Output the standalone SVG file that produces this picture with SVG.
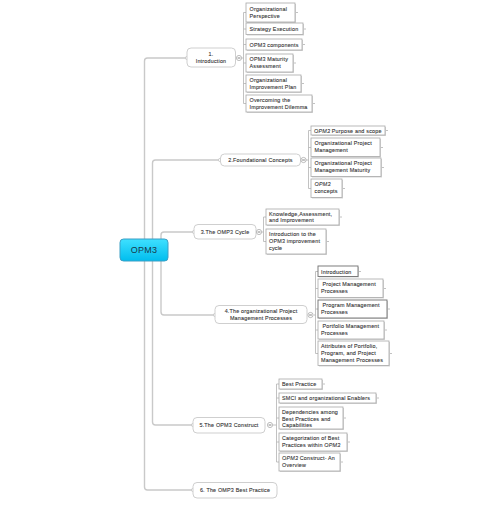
<svg xmlns="http://www.w3.org/2000/svg" width="503" height="508" viewBox="0 0 503 508">
<defs>
<linearGradient id="rg" x1="0" y1="0" x2="0" y2="1">
<stop offset="0" stop-color="#3fe0ff"/>
<stop offset="1" stop-color="#00bdee"/>
</linearGradient>
<style>
text{font-family:"Liberation Sans",Arial,sans-serif;font-size:5.4px;fill:#333;letter-spacing:.2px;stroke:#333;stroke-width:.1px}
.m{fill:none;stroke:#c9c9c9;stroke-width:1.4}
.k{fill:none;stroke:#b3b3b3;stroke-width:.8}
.mn{fill:#fff;stroke:#cfcfcf;stroke-width:1}
.cb{fill:#fff;stroke:#a8a8a8;stroke-width:.8}
.cd{fill:#fff;stroke:#6f6f6f;stroke-width:.9}
.sh{fill:#d6d6d6}
.cc{fill:#fff;stroke:#a0a0a0;stroke-width:.7}
.dot{fill:#fff;stroke:#c0c0c0;stroke-width:.7}
.c{text-anchor:middle}
.i{font-style:italic}
</style>
</defs>
<rect width="503" height="508" fill="#fff"/>
<g id="connectors">
<path class="m" d="M144.5 250 V61 Q144.5 58 147.5 58 H187"/>
<path class="m" d="M152.5 250 V163 Q152.5 160 155.5 160 H220"/>
<path class="m" d="M161 250 V235 Q161 232 164 232 H194"/>
<path class="m" d="M161 250 V312 Q161 315 164 315 H215"/>
<path class="m" d="M152.5 250 V422 Q152.5 425 155.5 425 H193"/>
<path class="m" d="M144.5 250 V487 Q144.5 490 147.5 490 H193"/>
<circle class="dot" cx="187" cy="58" r="1.6"/>
<circle class="dot" cx="220" cy="160" r="1.6"/>
<circle class="dot" cx="194" cy="232" r="1.6"/>
<circle class="dot" cx="215" cy="315" r="1.6"/>
<circle class="dot" cx="193" cy="425" r="1.6"/>
<circle class="dot" cx="193" cy="490" r="1.6"/>
<path class="k" d="M242 58 H243.5 M243.5 12.5 V103.5 M243.5 12.5 H246 M243.5 29 H246 M243.5 44.5 H246 M243.5 63 H246 M243.5 83.5 H246 M243.5 103.5 H246"/>
<path class="k" d="M306 160 H308.5 M308.5 130.5 V188.5 M308.5 130.5 H311 M308.5 147.5 H311 M308.5 167.5 H311 M308.5 188.5 H311"/>
<path class="k" d="M262 232 H263.5 M263.5 217 V241.5 M263.5 217 H266 M263.5 241.5 H266"/>
<path class="k" d="M314 315 H315.5 M315.5 271.5 V353.5 M315.5 271.5 H318 M315.5 288.5 H318 M315.5 309 H318 M315.5 330 H318 M315.5 353.5 H318"/>
<path class="k" d="M273 425 H276.5 M276.5 384 V462 M276.5 384 H279 M276.5 398 H279 M276.5 418 H279 M276.5 442 H279 M276.5 462 H279"/>
<path class="k" d="M295 12.5 H298 M303 29 H306 M302 44.5 H305 M293 63 H296 M301 83.5 H304 M312 103.5 H315 M385 130.5 H388 M380 147.5 H383 M381 167.5 H384 M342 188.5 H345 M339 217 H342 M326 241.5 H329 M358 271.5 H361 M383 288.5 H386 M387 309 H390 M384 330 H387 M389 353.5 H392 M322 384 H325 M376 398 H379 M343 418 H346 M347 442 H350 M340 462 H343"/>
</g>
<g id="root">
<rect x="120" y="239" width="48" height="22" rx="3.5" fill="url(#rg)" stroke="#3d9ec4" stroke-width="1"/>
<text x="144" y="253.3" class="c" style="font-size:9px;stroke:none;letter-spacing:.3px;fill:#17394a">OPM3</text>
</g>
<g id="n1">
<rect class="mn" x="187" y="48" width="48.5" height="19" rx="4"/>
<text x="211" y="55.5" class="c">1.</text>
<text x="211" y="62.5" class="c">Introduction</text>
<circle class="cc" cx="239" cy="58" r="2.6"/><path d="M237.6 58 H240.4" stroke="#666" stroke-width=".8"/>
</g>
<g id="n2">
<rect class="mn" x="220.5" y="154" width="80" height="12" rx="4"/>
<text x="260.5" y="162" class="c">2.Foundational Concepts</text>
<circle class="cc" cx="303.5" cy="160" r="2.6"/><path d="M302.1 160 H304.9" stroke="#666" stroke-width=".8"/>
</g>
<g id="n3">
<rect class="mn" x="194" y="224.5" width="62" height="14.5" rx="4"/>
<text x="225" y="234" class="c">3.The OMP3 Cycle</text>
<circle class="cc" cx="259" cy="232" r="2.6"/><path d="M257.6 232 H260.4" stroke="#666" stroke-width=".8"/>
</g>
<g id="n4">
<rect class="mn" x="215" y="305.5" width="92" height="18" rx="4"/>
<text x="261" y="313" class="c">4.The organizational  Project</text>
<text x="261" y="320" class="c">Management Processes</text>
<circle class="cc" cx="310.5" cy="315" r="2.6"/><path d="M309.1 315 H311.9" stroke="#666" stroke-width=".8"/>
</g>
<g id="n5">
<rect class="mn" x="193" y="417.5" width="72" height="15.5" rx="4"/>
<text x="229" y="427" class="c">5.The OPM3 Construct</text>
<circle class="cc" cx="270" cy="425" r="2.6"/><path d="M268.6 425 H271.4" stroke="#666" stroke-width=".8"/>
</g>
<g id="n6">
<rect class="mn" x="193" y="482.5" width="84" height="15.5" rx="4"/>
<text x="235" y="492" class="c">6. The OMP3 Best Practice</text>
</g>
<g id="c1a"><rect class="sh" x="247" y="4" width="49" height="19"/><rect class="cb" x="246" y="3" width="49" height="19"/><text x="249.5" y="10.5">Organizational</text><text x="249.5" y="17.5">Perspective</text></g>
<g id="c1b"><rect class="sh" x="247" y="24" width="57" height="11.5"/><rect class="cb" x="246" y="23" width="57" height="11.5"/><text x="249.5" y="31">Strategy Execution</text></g>
<g id="c1c"><rect class="sh" x="247" y="40" width="56" height="11"/><rect class="cb" x="246" y="39" width="56" height="11"/><text x="249.5" y="46.5">OPM3 components</text></g>
<g id="c1d"><rect class="sh" x="247" y="55" width="47" height="18"/><rect class="cb" x="246" y="54" width="47" height="18"/><text x="249.5" y="61">OPM3 Maturity</text><text x="249.5" y="68">Assessment</text></g>
<g id="c1e"><rect class="sh" x="247" y="76" width="55" height="17"/><rect class="cb" x="246" y="75" width="55" height="17"/><text x="249.5" y="82">Organizational</text><text x="249.5" y="89">Improvement Plan</text></g>
<g id="c1f"><rect class="sh" x="247" y="96" width="66" height="17"/><rect class="cb" x="246" y="95" width="66" height="17"/><text x="249.5" y="102">Overcoming the</text><text x="249.5" y="109">Improvement Dilemma</text></g>
<g id="c2a"><rect class="sh" x="312" y="127" width="74" height="9"/><rect class="cb" x="311" y="126" width="74" height="9"/><text x="314" y="132.5"><tspan class="i">OPM3</tspan> Purpose and scope</text></g>
<g id="c2b"><rect class="sh" x="312" y="139" width="69" height="18.5"/><rect class="cb" x="311" y="138" width="69" height="18.5"/><text x="314.5" y="145">Organizational  Project</text><text x="314.5" y="152">Management</text></g>
<g id="c2c"><rect class="sh" x="312" y="159" width="70" height="18.5"/><rect class="cb" x="311" y="158" width="70" height="18.5"/><text x="314.5" y="165">Organizational  Project</text><text x="314.5" y="172">Management  Maturity</text></g>
<g id="c2d"><rect class="sh" x="312" y="180" width="31" height="18.5"/><rect class="cb" x="311" y="179" width="31" height="18.5"/><text x="314.5" y="186" class="i">OPM3</text><text x="314.5" y="193">concepts</text></g>
<g id="c3a"><rect class="sh" x="267" y="210" width="73" height="16"/><rect class="cb" x="266" y="209" width="73" height="16"/><text x="269" y="215.5">Knowledge,Assessment,</text><text x="269" y="222">and Improvement</text></g>
<g id="c3b"><rect class="sh" x="267" y="230" width="60" height="25"/><rect class="cb" x="266" y="229" width="60" height="25"/><text x="269" y="236">Introduction  to the</text><text x="269" y="243">OPM3 improvement</text><text x="269" y="250">cycle</text></g>
<g id="c4a"><rect class="sh" x="319" y="267" width="40" height="10.5"/><rect class="cd" x="318" y="266" width="40" height="10.5"/><text x="321" y="273.5">Introduction</text></g>
<g id="c4b"><rect class="sh" x="319" y="280" width="65" height="18.5"/><rect class="cb" x="318" y="279" width="65" height="18.5"/><text x="322.5" y="286">Project Management</text><text x="321" y="293">Processes</text></g>
<g id="c4c"><rect class="sh" x="319" y="301" width="69" height="18"/><rect class="cd" x="318" y="300" width="69" height="18"/><text x="322.5" y="307">Program Management</text><text x="321" y="314">Processes</text></g>
<g id="c4d"><rect class="sh" x="319" y="322" width="66" height="18"/><rect class="cb" x="318" y="321" width="66" height="18"/><text x="322.5" y="328">Portfolio Management</text><text x="321" y="335">Processes</text></g>
<g id="c4e"><rect class="sh" x="319" y="342" width="71" height="24.5"/><rect class="cb" x="318" y="341" width="71" height="24.5"/><text x="321" y="348">Attributes of Portfolio,</text><text x="321" y="355">Program, and Project</text><text x="321" y="362">Management Processes</text></g>
<g id="c5a"><rect class="sh" x="280" y="380" width="43" height="10"/><rect class="cb" x="279" y="379" width="43" height="10"/><text x="282" y="386.2">Best Practice</text></g>
<g id="c5b"><rect class="sh" x="280" y="394" width="97" height="10"/><rect class="cb" x="279" y="393" width="97" height="10"/><text x="282" y="400.2">SMCI and organizational Enablers</text></g>
<g id="c5c"><rect class="sh" x="280" y="408" width="64" height="22"/><rect class="cb" x="279" y="407" width="64" height="22"/><text x="282" y="414">Dependencies among</text><text x="282" y="420.5">Best Practices and</text><text x="282" y="427">Capabilities</text></g>
<g id="c5d"><rect class="sh" x="280" y="434" width="68" height="18"/><rect class="cb" x="279" y="433" width="68" height="18"/><text x="282" y="440">Categorization of Best</text><text x="282" y="447">Practices  within <tspan class="i">OPM3</tspan></text></g>
<g id="c5e"><rect class="sh" x="280" y="454" width="61" height="18"/><rect class="cb" x="279" y="453" width="61" height="18"/><text x="282" y="460"><tspan class="i">OPM3</tspan> Construct- An</text><text x="282" y="467">Overview</text></g>
</svg>
